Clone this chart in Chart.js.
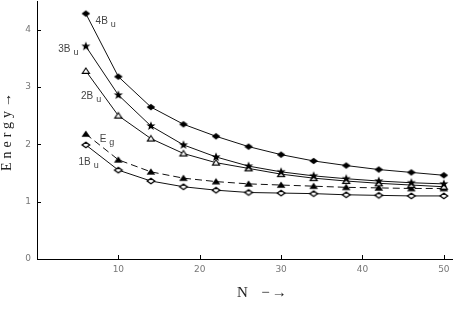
<!DOCTYPE html>
<html><head><meta charset="utf-8">
<script src="https://cdn.jsdelivr.net/npm/chart.js@4"></script>
<style>html,body{margin:0;padding:0;background:#fff}#wrap{width:458px;height:317px}</style>
</head><body><div id="wrap"><canvas id="c" width="458" height="317"></canvas></div>
<script>
// ---- data ----
const N = [6, 10, 14, 18, 22, 26, 30, 34, 38, 42, 46, 50];
const E_4Bu = [4.28, 3.18, 2.65, 2.35, 2.14, 1.96, 1.82, 1.71, 1.63, 1.56, 1.51, 1.46];
const E_3Bu = [3.71, 2.86, 2.32, 1.99, 1.78, 1.62, 1.52, 1.45, 1.40, 1.36, 1.33, 1.31];
const E_2Bu = [3.28, 2.50, 2.10, 1.84, 1.68, 1.58, 1.48, 1.41, 1.36, 1.32, 1.29, 1.26];
const E_Eg  = [2.18, 1.73, 1.52, 1.41, 1.35, 1.31, 1.29, 1.27, 1.25, 1.24, 1.23, 1.23];
const E_1Bu = [1.99, 1.55, 1.36, 1.26, 1.20, 1.16, 1.15, 1.14, 1.12, 1.11, 1.10, 1.10];
const seriesMain = ['4B', '3B', '2B', 'E', '1B'];
const seriesSub  = ['u', 'u', 'u', 'g', 'u'];
const xTitle = 'N  \u2212\u2192';
const yTitle = 'Energy\u2192';
// label anchors in data units (N, Energy)
const labelN = [7.2, 2.6, 5.4, 7.7, 5.1];
const labelE = [4.14, 3.65, 2.83, 2.08, 1.68];

// ---- marker images ----
function mk(draw) {
  const c = document.createElement('canvas'); c.width = 12; c.height = 12;
  const g = c.getContext('2d'); g.translate(6, 6); draw(g); return c;
}
const diamondFilled = mk(g => { g.beginPath(); g.moveTo(0,-3.3); g.lineTo(4.3,0); g.lineTo(0,3.3); g.lineTo(-4.3,0); g.closePath(); g.fillStyle='#000'; g.fill(); });
const diamondOpen = mk(g => { g.beginPath(); g.moveTo(0,-2.8); g.lineTo(3.8,0); g.lineTo(0,2.8); g.lineTo(-3.8,0); g.closePath(); g.fillStyle='#fff'; g.fill(); g.lineWidth=1.3; g.strokeStyle='#000'; g.stroke(); });
const triOpen = mk(g => { g.beginPath(); g.moveTo(0,-3); g.lineTo(3.6,2.4); g.lineTo(-3.6,2.4); g.closePath(); g.fillStyle='#fff'; g.fill(); g.lineWidth=1.1; g.strokeStyle='#000'; g.stroke(); });
const triFilled = mk(g => { g.beginPath(); g.moveTo(0,-3.5); g.lineTo(4.3,2.8); g.lineTo(-4.3,2.8); g.closePath(); g.fillStyle='#000'; g.fill(); });
const starFilled = mk(g => { g.beginPath(); for (let i=0;i<10;i++){ const r = i%2===0 ? 4.8 : 2; const a = -Math.PI/2 + i*Math.PI/5; const px=r*Math.cos(a), py=r*Math.sin(a); if(i===0) g.moveTo(px,py); else g.lineTo(px,py);} g.closePath(); g.fillStyle='#000'; g.fill(); });

function pts(arr) { return N.map((n, i) => ({ x: n, y: arr[i] })); }
function ds(label, arr, style, dash) {
  return { label, data: pts(arr), borderColor: '#111', borderWidth: 1, borderDash: dash || [],
    pointStyle: style, pointRadius: 5, pointHoverRadius: 5, tension: 0, fill: false };
}

// pin the plot area top to the layout padding (axis runs to the top edge)
const areaPlugin = {
  id: 'pinTop',
  afterLayout(chart) {
    const top = chart.options.layout.padding.top;
    const a = chart.chartArea; const y = chart.scales.y;
    a.top = top; a.height = a.bottom - a.top;
    y.top = top; y.height = y.bottom - y.top;
    y.configure();
  }
};

const tickPlugin = {
  id: 'inTicks',
  afterDraw(chart) {
    const { ctx, chartArea: a } = chart; const x = chart.scales.x, y = chart.scales.y;
    ctx.save(); ctx.strokeStyle = '#000'; ctx.lineWidth = 1; ctx.beginPath();
    x.ticks.forEach(t => {
      if (t.value <= 0) return;
      const px = Math.round(x.getPixelForValue(t.value)) + 0.5;
      const len = Math.abs(t.value % 10) < 1e-6 ? 4 : 2.5;
      ctx.moveTo(px, a.bottom); ctx.lineTo(px, a.bottom - len);
    });
    y.ticks.forEach(t => {
      if (t.value <= 0) return;
      const py = Math.round(y.getPixelForValue(t.value)) + 0.5;
      const len = Math.abs(t.value - Math.round(t.value)) < 1e-6 ? 4 : 2.5;
      ctx.moveTo(a.left, py); ctx.lineTo(a.left + len, py);
    });
    ctx.stroke();
    // axis titles
    ctx.fillStyle = '#222';
    ctx.font = '15px "Liberation Serif"';
    ctx.letterSpacing = '2px';
    ctx.textAlign = 'left'; ctx.textBaseline = 'alphabetic';
    ctx.fillText(xTitle, 237, 297);
    ctx.save();
    ctx.translate(11, 130); ctx.rotate(-Math.PI / 2);
    ctx.font = '14px "Liberation Serif"';
    ctx.letterSpacing = '4px';
    ctx.textAlign = 'center';
    ctx.fillText(yTitle, 0, 0);
    ctx.restore();
    // series labels
    ctx.letterSpacing = '0px';
    ctx.fillStyle = '#444';
    for (let i = 0; i < seriesMain.length; i++) {
      const px = x.getPixelForValue(labelN[i]);
      const py = y.getPixelForValue(labelE[i]);
      ctx.font = '10px "Liberation Sans"';
      ctx.textAlign = 'left'; ctx.textBaseline = 'middle';
      ctx.fillText(seriesMain[i], px, py);
      const w = ctx.measureText(seriesMain[i]).width;
      ctx.font = '9px "Liberation Sans"';
      ctx.fillText(seriesSub[i], px + w + 3, py + 3);
    }
    ctx.restore();
  }
};

new Chart(document.getElementById('c').getContext('2d'), {
  type: 'line',
  data: { datasets: [
    ds('4Bu', E_4Bu, diamondFilled),
    ds('3Bu', E_3Bu, starFilled),
    ds('2Bu', E_2Bu, triOpen),
    ds('Eg', E_Eg, triFilled, [7, 4]),
    ds('1Bu', E_1Bu, diamondOpen)
  ] },
  options: {
    responsive: false, animation: false, devicePixelRatio: 1,
    layout: { padding: { left: 0, right: 5, top: 1, bottom: 0 } },
    plugins: { legend: { display: false }, tooltip: { enabled: false } },
    scales: {
      x: {
        type: 'linear', min: 0, max: 51, bounds: 'data',
        border: { display: true, color: '#000', width: 1 },
        grid: { display: false, drawTicks: false },
        ticks: { stepSize: 2, includeBounds: false, autoSkip: false, maxRotation: 0, padding: 5,
          color: '#777', font: { family: 'DejaVu Sans', size: 9 },
          callback: v => (Math.abs(v % 10) < 1e-6 && v > 0) ? String(v) : null },
        afterFit: s => { s.height = 58; s.paddingLeft = 0; s.paddingRight = 0; }
      },
      y: {
        type: 'linear', min: 0, max: 4.5, bounds: 'data',
        border: { display: true, color: '#000', width: 1 },
        grid: { display: false, drawTicks: true, tickLength: 6 },
        ticks: { stepSize: 0.2, includeBounds: false, autoSkip: false, padding: 0,
          color: '#777', font: { family: 'DejaVu Sans', size: 9 },
          callback: v => Math.abs(v - Math.round(v)) < 1e-6 ? String(Math.round(v)) : null },
        afterFit: s => { s.width = 37; s.paddingTop = 0; s.paddingBottom = 0; }
      }
    }
  },
  plugins: [areaPlugin, tickPlugin]
});
</script>
</body></html>
